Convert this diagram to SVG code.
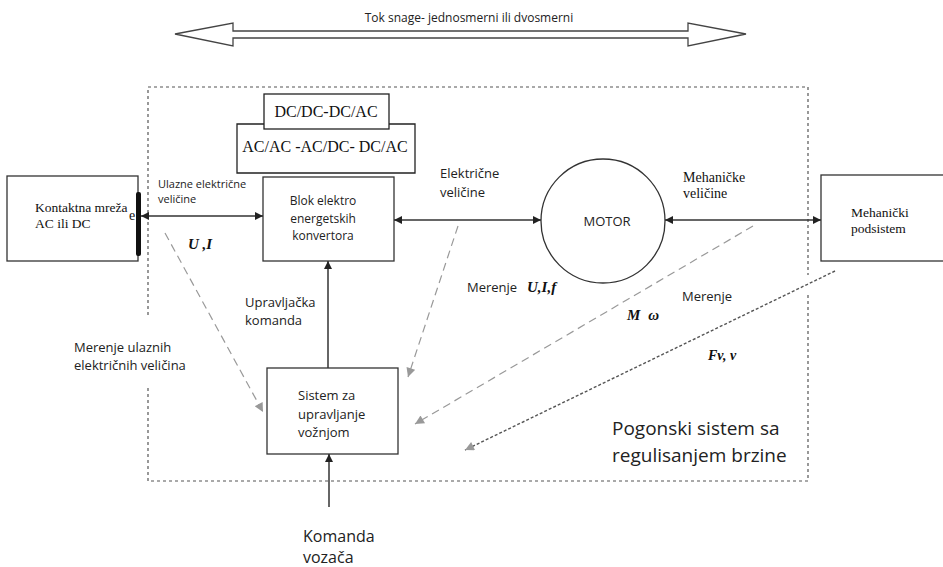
<svg xmlns="http://www.w3.org/2000/svg" width="943" height="567" viewBox="0 0 943 567">
<style>
.box{fill:#fff;stroke:#333;stroke-width:1.3}
.sans{font-family:"Open Sans","Noto Sans",sans-serif;fill:#222}
.serif{font-family:"Liberation Serif","Times New Roman",serif;fill:#111}
.bi{font-family:"Liberation Serif",serif;font-weight:bold;font-style:italic;fill:#111}
.conn{stroke:#333;stroke-width:1.5;fill:none}
.gray{stroke:#999;stroke-width:1.2;stroke-dasharray:8 5;fill:none}
.dot{stroke:#555;stroke-width:1.4;stroke-dasharray:3 2;fill:none}
.border{stroke:#555;stroke-width:1.2;stroke-dasharray:3 3;fill:none}
</style>
<defs>
<marker id="ah" viewBox="0 0 10 10" refX="10" refY="5" markerWidth="10" markerHeight="8" markerUnits="userSpaceOnUse" orient="auto-start-reverse"><path d="M0,0 L10,5 L0,10 z" fill="#222"/></marker>
<marker id="ag" viewBox="0 0 10 10" refX="10" refY="5" markerWidth="11" markerHeight="9" markerUnits="userSpaceOnUse" orient="auto"><path d="M0,0 L10,5 L0,10 z" fill="#999"/></marker>
<marker id="ad" viewBox="0 0 10 10" refX="10" refY="5" markerWidth="11" markerHeight="9" markerUnits="userSpaceOnUse" orient="auto"><path d="M0,0 L10,5 L0,10 z" fill="#999"/></marker>
</defs>
<rect width="943" height="567" fill="#fff"/>

<g id="power-flow">
<path d="M175,34 L233,23 L233,31 L688,31 L688,23 L746,34 L688,46 L688,38 L233,38 L233,46 Z" fill="#fff" stroke="#444" stroke-width="1.3"/>
<text class="sans" x="469" y="22" font-size="12" text-anchor="middle">Tok snage- jednosmerni ili dvosmerni</text>
</g>

<g id="system-border">
<path class="border" d="M148,315 L148,87 L808,87 L808,275"/>
<path class="border" d="M808,295 L808,481 L148,481 L148,388"/>
<text class="sans" x="612" y="435" font-size="19">Pogonski sistem sa</text>
<text class="sans" x="612" y="462" font-size="19">regulisanjem brzine</text>
</g>

<g id="converter-types">
<path d="M264,124 L237,124 L237,173 L415,173 L415,124 L389,124" fill="none" stroke="#222" stroke-width="1.3"/>
<rect x="264" y="94" width="125" height="35" fill="#fff" stroke="#222" stroke-width="1.3"/>
<text class="serif" x="326" y="117" font-size="16" text-anchor="middle">DC/DC-DC/AC</text>
<text class="serif" x="325" y="152" font-size="16" text-anchor="middle">AC/AC -AC/DC- DC/AC</text>
</g>

<g id="kontaktna-mreza">
<rect class="box" x="7" y="176" width="131" height="85"/>
<text class="serif" x="35" y="212" font-size="13.5">Kontaktna mreža</text>
<text class="serif" x="35" y="228" font-size="13.5">AC ili DC</text>
<text class="serif" x="129" y="220" font-size="14">e</text>
<rect x="136" y="192" width="5" height="64" rx="2" fill="#111"/>
</g>

<g id="blok-konvertora">
<rect class="box" x="263" y="177" width="131" height="84"/>
<text class="sans" x="323" y="205" font-size="12" text-anchor="middle">Blok elektro</text>
<text class="sans" x="323" y="223" font-size="12" text-anchor="middle">energetskih</text>
<text class="sans" x="323" y="240" font-size="12" text-anchor="middle">konvertora</text>
</g>

<g id="motor">
<circle cx="603" cy="221" r="62" fill="#fff" stroke="#333" stroke-width="1.3"/>
<text class="sans" x="607" y="226" font-size="13" text-anchor="middle">MOTOR</text>
</g>

<g id="mehanicki-podsistem">
<rect class="box" x="821" y="175" width="130" height="86"/>
<text class="serif" x="851" y="217" font-size="13.5">Mehanički</text>
<text class="serif" x="851" y="233" font-size="13.5">podsistem</text>
</g>

<g id="sistem-upravljanja">
<rect class="box" x="267" y="368" width="131" height="86"/>
<text class="sans" x="298" y="400" font-size="13">Sistem za</text>
<text class="sans" x="298" y="419" font-size="13">upravljanje</text>
<text class="sans" x="298" y="437" font-size="13">vožnjom</text>
</g>

<g id="connectors">
<line class="conn" x1="141" y1="216" x2="263" y2="216" marker-start="url(#ah)" marker-end="url(#ah)"/>
<line class="conn" x1="394" y1="220" x2="541" y2="220" marker-start="url(#ah)" marker-end="url(#ah)"/>
<line class="conn" x1="665" y1="220" x2="821" y2="220" marker-start="url(#ah)" marker-end="url(#ah)"/>
<line class="conn" x1="328" y1="368" x2="328" y2="261" marker-end="url(#ah)"/>
<line class="conn" x1="329" y1="507" x2="329" y2="454" marker-end="url(#ah)"/>
<line class="gray" x1="165" y1="233" x2="263" y2="412" marker-end="url(#ag)"/>
<line class="gray" x1="458" y1="226" x2="408" y2="377" marker-end="url(#ag)"/>
<line class="gray" x1="753" y1="226" x2="415" y2="424" marker-end="url(#ag)"/>
<line class="dot" x1="835" y1="271" x2="465" y2="450" marker-end="url(#ad)"/>
</g>

<g id="labels">
<text class="sans" x="158" y="188" font-size="11">Ulazne električne</text>
<text class="sans" x="158" y="203" font-size="11">veličine</text>
<text class="bi" x="188" y="249" font-size="15">U ,I</text>
<text class="sans" x="440" y="178" font-size="13">Električne</text>
<text class="sans" x="440" y="197" font-size="13">veličine</text>
<text class="serif" x="683" y="182" font-size="14">Mehaničke</text>
<text class="serif" x="683" y="198" font-size="14">veličine</text>
<text class="sans" x="467" y="292" font-size="13">Merenje</text>
<text class="bi" x="527" y="292" font-size="15">U,I,f</text>
<text class="sans" x="682" y="301" font-size="13">Merenje</text>
<text class="bi" x="627" y="320" font-size="15">M<tspan dx="8">ω</tspan></text>
<text class="bi" x="708" y="360" font-size="14">Fv, v</text>
<text class="sans" x="245" y="307" font-size="13">Upravljačka</text>
<text class="sans" x="245" y="325" font-size="13">komanda</text>
<text class="sans" x="74" y="352" font-size="13">Merenje ulaznih</text>
<text class="sans" x="74" y="370" font-size="13">električnih veličina</text>
<text class="sans" x="303" y="542" font-size="16">Komanda</text>
<text class="sans" x="303" y="563" font-size="16">vozača</text>
</g>
</svg>
